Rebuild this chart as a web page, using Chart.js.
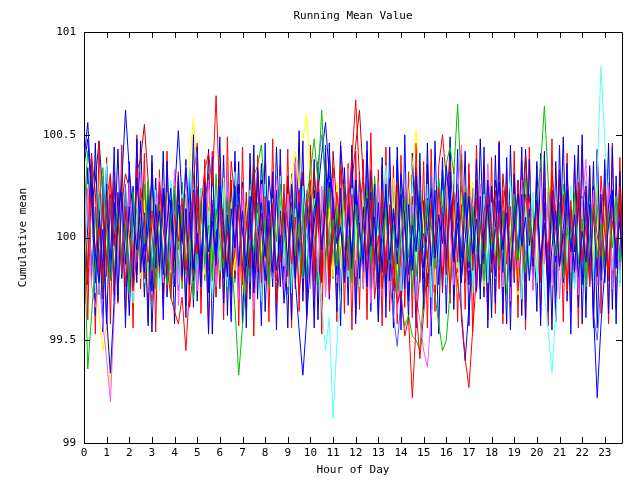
<!DOCTYPE html>
<html>
<head>
<meta charset="utf-8">
<script src="https://cdn.jsdelivr.net/npm/chart.js@4/dist/chart.umd.min.js"></script>
<style>
  html, body { margin: 0; padding: 0; background: #fff; }
  #wrap { width: 640px; height: 480px; }
</style>
</head>
<body>
<div id="wrap"><canvas id="meanChart" width="640" height="480"></canvas></div>
<script>
// hour ticks shown on the x axis
const hourTicks = [0, 1, 2, 3, 4, 5, 6, 7, 8, 9, 10, 11, 12, 13, 14, 15, 16, 17, 18, 19, 20, 21, 22, 23];
const meanTicks = [99, 99.5, 100, 100.5, 101];
const samplesPerHour = 6;

// one array per run, a sample every 10 minutes
const blueA = [
    100.38, 100.56, 100.21, 99.92, 99.78, 100.04, 99.61, 99.34, 99.7, 100.09,
    100.27, 100.62, 100.33, 100.11, 99.94, 100.18, 99.87, 100.05, 100.29, 99.96,
    100.13, 99.82, 100.07, 100.24, 99.9, 100.16, 99.98, 100.34, 100.1, 99.85,
    100.02, 99.76, 100.19, 99.93, 100.08, 99.88, 100.25, 100.06, 99.81, 100.14,
    99.95, 100.21, 100.03, 99.86, 100.12, 99.73, 99.97, 100.17, 99.91, 100.3,
    100.09, 99.84, 100.01, 99.68, 99.9, 100.11, 99.79, 99.55, 99.33, 99.6,
    99.88, 100.07, 100.22, 99.94, 100.15, 100.39, 100.18, 99.97, 100.05, 99.83,
    100.12, 99.92, 100.28, 100.04, 99.87, 100.19, 99.96, 100.1, 99.78, 100.02,
    100.23, 99.89, 100.13, 99.95, 100.31, 100.08, 99.82, 100.06, 99.93, 100.17,
    99.85, 100.03, 100.24, 99.9, 100.11, 99.97, 100.35, 100.14, 99.88, 100.07,
    99.8, 99.99, 100.2, 99.92, 100.09, 99.75, 100.01, 100.16, 99.87, 100.05,
    100.27, 99.94, 100.12, 99.83, 100.06, 100.21, 99.96, 100.1, 99.79, 100.02,
    100.18, 99.9, 100.07, 99.72, 99.95, 100.13, 99.86, 100.04, 100.25, 99.93,
    100.11, 99.81, 100.03, 99.88, 100.16, 99.64, 99.22, 99.58, 99.84, 100.06,
    100.2, 99.91, 100.08, 99.79, 100.01
];
const blueB = [
    100.35, 100.48, 100.2, 99.78, 100.13, 99.85, 100.26, 99.8, 100.17, 99.72,
    100.22, 99.87, 100.15, 99.76, 100.29, 100.02, 99.83, 100.21, 99.74, 100.16,
    99.86, 100.24, 99.79, 100.18, 99.89, 100.3, 99.81, 100.14, 99.77, 100.23,
    100.01, 99.84, 100.27, 99.75, 100.16, 99.87, 100.22, 99.8, 100.19, 99.73,
    100.25, 99.86, 100.13, 99.78, 100.2, 99.82, 100.34, 100.05, 99.79, 100.18,
    99.83, 100.23, 99.76, 100.12, 99.88, 100.26, 99.8, 100.17, 99.74, 100.21,
    99.87, 100.14, 100.22, 100.41, 100.56, 100.3, 100.18, 99.82, 100.24, 99.78,
    100.15, 99.85, 100.28, 99.8, 100.13, 99.76, 100.22, 99.88, 100.17, 99.83,
    100.26, 99.79, 100.14, 99.87, 100.21, 99.75, 100.16, 99.84, 100.3, 100.01,
    99.8, 100.19, 99.86, 100.23, 99.77, 100.15, 99.82, 100.25, 99.89, 100.17,
    99.78, 100.22, 99.85, 100.13, 99.74, 100.2, 99.87, 100.28, 100.02, 99.81,
    100.18, 99.83, 100.24, 99.76, 100.16, 99.89, 100.21, 99.79, 100.14, 99.86,
    100.27, 99.82, 100.17, 99.75, 100.2, 99.88, 100.13, 99.8, 100.23, 100.05,
    99.84, 100.18, 99.77, 100.25, 99.86, 100.12, 99.81, 100.21, 99.78, 100.16,
    100.23, 99.85, 100.14, 99.8, 100.19
];
const blueC = [
    99.7, 100.05, 100.41, 99.62, 100.19, 99.54, 100.35, 99.88, 100.44, 99.69,
    100.23, 99.56, 100.37, 99.72, 100.48, 99.83, 100.12, 99.57, 100.4, 99.85,
    100.26, 99.6, 100.37, 99.87, 100.21, 100.52, 100.18, 99.61, 100.33, 99.66,
    100.44, 99.84, 100.15, 99.53, 100.39, 99.86, 100.49, 99.68, 100.11, 99.59,
    100.42, 99.75, 100.27, 99.56, 100.41, 99.8, 100.14, 99.57, 100.46, 99.77,
    100.32, 99.55, 100.43, 99.79, 100.18, 99.6, 100.36, 99.88, 100.47, 99.62,
    100.2, 99.56, 100.34, 99.86, 100.45, 99.7, 100.19, 99.64, 100.45, 100.21,
    99.67, 100.43, 99.58, 100.32, 99.83, 100.47, 99.64, 100.26, 99.59, 100.35,
    99.61, 100.44, 99.77, 100.38, 99.55, 100.5, 99.69, 100.14, 99.56, 100.41,
    99.65, 100.36, 99.52, 100.47, 99.88, 100.39, 99.63, 100.32, 99.74, 100.43,
    99.61, 99.4, 99.66, 99.89, 100.38, 99.7, 100.44, 99.56, 100.25, 99.68,
    100.46, 99.63, 100.39, 99.55, 100.31, 99.87, 100.44, 99.6, 100.38, 99.75,
    100.37, 99.57, 100.42, 99.64, 100.23, 99.59, 100.45, 99.78, 100.36, 99.53,
    100.4, 99.66, 100.5, 99.61, 100.35, 99.56, 100.43, 99.79, 100.38, 99.63,
    100.44, 99.58, 100.32, 99.67, 100.41
];
const redA = [
    100.12, 99.85, 100.21, 99.93, 100.05, 99.78, 100.18, 100.31, 99.96, 100.08,
    99.82, 100.15, 100.02, 99.74, 99.91, 100.24, 100.09, 99.88, 100.13, 99.95,
    100.27, 100.04, 99.86, 99.71, 100.11, 99.98, 100.19, 99.84, 100.06, 100.22,
    99.92, 100.14, 100.33, 100.41, 100.25, 100.69, 100.18, 99.89, 100.03, 99.81,
    99.94, 100.16, 99.77, 100.08, 99.99, 100.26, 99.83, 100.12, 99.9, 100.02,
    100.17, 99.79, 99.93, 100.21, 100.05, 99.87, 100.1, 99.72, 99.96, 100.19,
    100.07, 99.85, 100.28, 99.95, 100.13, 99.8, 99.98, 100.22, 100.04, 99.88,
    100.15, 100.38, 100.67, 100.29, 100.06, 99.91, 100.18, 99.84, 100.01, 99.76,
    99.93, 100.11, 99.86, 99.68, 99.74, 99.52, 99.61, 99.22, 99.58, 99.83,
    100.02, 99.89, 100.14, 99.97, 100.24, 100.08, 99.82, 100.16, 99.94, 99.78,
    99.65, 99.41, 99.27, 99.55, 99.81, 100.06, 99.92, 100.19, 100.03, 99.87,
    100.12, 99.96, 100.26, 99.83, 100.09, 99.74, 99.99, 100.21, 100.05, 99.9,
    100.17, 99.8, 100.07, 99.93, 100.3, 100.11, 99.86, 100.02, 99.75, 100.14,
    99.97, 100.23, 99.88, 100.06, 99.79, 100.16, 100.01, 99.91, 100.25, 99.84,
    100.08, 99.95, 100.19, 99.87, 100.04
];
const redB = [
    99.64, 99.85, 100.4, 100.22, 99.78, 100.16, 99.81, 100.31, 99.72, 100.14,
    100.25, 99.76, 100.19, 99.87, 100.34, 100.02, 99.8, 100.27, 99.69, 100.15,
    99.83, 100.23, 99.75, 100.18, 99.88, 100.32, 99.79, 100.14, 99.66, 99.85,
    100.21, 99.77, 100.29, 99.84, 100.16, 99.71, 100.24, 100.0, 99.82, 100.37,
    100.18, 99.8, 100.25, 99.74, 100.13, 99.86, 100.3, 99.78, 100.2, 99.83,
    100.15, 99.68, 99.88, 100.26, 99.81, 100.17, 99.75, 100.22, 99.85, 100.13,
    100.28, 99.79, 100.16, 99.83, 100.24, 99.72, 100.11, 99.87, 100.35, 100.19,
    99.84, 100.21, 99.76, 100.14, 100.3, 99.8, 100.17, 99.7, 99.89, 100.23,
    99.82, 100.16, 99.74, 100.27, 99.86, 100.13, 99.78, 100.2, 99.66, 99.41,
    99.63, 99.87, 100.18, 99.85, 100.25, 99.81, 100.14, 99.73, 100.22, 99.88,
    100.16, 99.79, 100.31, 99.84, 100.19, 99.76, 100.12, 100.26, 99.83, 100.17,
    99.75, 100.23, 99.87, 100.15, 99.8, 100.28, 100.01, 99.77, 100.2, 99.85,
    100.24, 99.78, 100.16, 99.82, 100.33, 100.03, 99.86, 100.21, 99.74, 100.18,
    99.83, 100.27, 99.89, 100.15, 99.76, 100.22, 99.84, 100.3, 100.02, 99.79,
    100.19, 99.87, 100.25, 99.72, 100.14
];
const redC = [
    100.43, 99.6, 100.36, 99.53, 100.47, 99.76, 100.39, 99.58, 100.32, 99.68,
    100.45, 99.62, 100.34, 99.56, 100.5, 99.75, 100.41, 99.59, 100.37, 99.54,
    100.33, 99.67, 100.42, 99.71, 99.64, 99.58, 99.71, 99.45, 99.77, 100.29,
    100.46, 99.63, 100.38, 99.55, 100.42, 99.78, 100.35, 99.6, 100.49, 99.64,
    100.37, 99.57, 100.44, 99.66, 100.33, 99.52, 100.4, 99.75, 100.36, 99.59,
    100.48, 99.62, 100.35, 99.77, 100.43, 99.56, 100.39, 99.64, 100.32, 99.6,
    100.45, 99.66, 100.37, 99.53, 100.41, 99.78, 100.34, 99.59, 100.47, 99.63,
    100.36, 99.55, 100.42, 99.65, 100.38, 99.6, 100.51, 99.77, 100.33, 99.57,
    100.44, 99.64, 100.35, 99.58, 100.4, 99.66, 100.32, 99.61, 100.46, 99.79,
    100.37, 99.56, 100.43, 99.64, 100.35, 100.5, 100.28, 99.68, 100.34, 99.59,
    100.41, 99.65, 100.36, 99.54, 100.45, 99.77, 100.33, 99.6, 100.39, 99.63,
    100.47, 99.58, 100.34, 99.66, 100.42, 99.61, 100.37, 99.55, 100.44, 99.78,
    100.35, 99.62, 100.4, 99.57, 100.48, 99.65, 100.33, 99.59, 100.41, 99.64,
    100.38, 99.56, 100.45, 99.77, 100.34, 99.6, 100.42, 99.63, 100.36, 99.58,
    100.46, 99.65, 100.39, 99.61, 100.33
];
const greenA = [
    100.05, 99.36, 99.62, 99.88, 100.19, 100.34, 100.02, 99.79, 99.95, 100.13,
    99.86, 100.07, 99.73, 100.22, 99.91, 100.1, 99.97, 100.28, 99.84, 100.01,
    100.16, 99.9, 99.77, 100.09, 100.25, 99.94, 100.12, 99.82, 100.03, 99.7,
    99.96, 100.18, 99.87, 100.06, 99.79, 100.14, 99.99, 99.85, 100.2, 99.92,
    99.66, 99.33, 99.57, 99.81, 100.04, 99.93, 100.17, 99.88, 100.08, 99.76,
    100.11, 99.98, 100.26, 100.03, 99.84, 100.15, 99.91, 100.07, 99.8, 100.19,
    100.32, 100.48, 100.27, 100.62, 100.21, 99.96, 100.09, 99.86, 100.13, 99.94,
    100.01, 99.78, 100.16, 99.89, 100.05, 100.23, 99.92, 100.1, 99.83, 99.97,
    100.14, 99.87, 100.06, 99.74, 99.99, 100.2, 99.9, 100.11, 99.81, 100.03,
    99.95, 100.18, 100.07, 99.85, 100.29, 100.12, 100.36, 100.44, 100.31, 100.65,
    100.24, 100.02, 99.88, 100.15, 99.93, 100.08, 99.79, 100.17, 99.96, 100.04,
    99.86, 100.13, 99.72, 99.98, 100.21, 99.89, 100.06, 99.83, 100.1, 99.94,
    100.19, 100.35, 100.64, 100.28, 100.03, 99.91, 100.14, 99.8, 100.05, 99.97,
    100.22, 99.87, 100.09, 99.76, 100.01, 100.16, 99.9, 100.07, 99.84, 100.12,
    99.95, 100.2, 99.88, 100.03, 99.92
];
const greenB = [
    100.12, 100.42, 100.28, 99.8, 100.17, 99.76, 100.23, 99.87, 100.15, 99.73,
    100.21, 99.84, 100.3, 99.78, 100.14, 99.89, 100.26, 99.81, 100.18, 99.75,
    100.13, 99.86, 100.22, 99.7, 100.19, 99.83, 100.27, 100.01, 99.77, 100.16,
    99.85, 100.24, 99.79, 100.15, 99.88, 100.31, 99.82, 100.2, 99.74, 100.12,
    100.23, 99.8, 100.17, 99.86, 100.28, 99.76, 100.14, 99.83, 100.21, 99.89,
    100.16, 99.72, 100.25, 99.87, 100.13, 99.78, 100.22, 99.84, 100.18, 99.81,
    100.29, 100.02, 99.77, 100.2, 99.85, 100.24, 99.8, 100.15, 99.88, 100.26,
    99.79, 100.17, 99.83, 100.22, 99.75, 100.13, 99.87, 100.3, 100.06, 99.82,
    100.2, 99.77, 100.14, 99.86, 100.25, 99.8, 100.18, 99.73, 100.11, 100.23,
    99.84, 100.16, 99.78, 99.72, 99.58, 99.45, 99.5, 99.74, 99.97, 100.19,
    99.81, 100.24, 100.0, 99.76, 100.17, 99.85, 100.27, 99.79, 100.14, 99.88,
    100.22, 99.8, 100.16, 99.74, 100.2, 99.86, 100.13, 100.29, 99.82, 100.18,
    99.77, 100.15, 99.87, 100.23, 99.8, 100.12, 99.84, 100.26, 100.07, 99.75,
    100.2, 99.83, 100.14, 99.78, 100.24, 99.88, 100.16, 99.81, 100.22, 99.85,
    100.13, 99.79, 100.27, 99.84, 100.16
];
const greenC = [
    99.78, 100.2, 99.85, 100.14, 99.72, 100.25, 99.87, 100.18, 99.8, 100.13,
    99.84, 100.23, 99.76, 100.16, 99.88, 100.29, 99.81, 100.12, 99.77, 100.22,
    99.86, 100.17, 99.79, 100.26, 99.83, 100.14, 99.75, 100.21, 99.88, 100.15,
    99.8, 100.24, 99.85, 100.13, 99.73, 100.19, 99.87, 100.28, 99.82, 100.16,
    99.78, 100.22, 99.86, 100.17, 99.81, 100.3, 100.35, 100.45, 100.2, 99.84,
    100.15, 99.77, 100.23, 99.88, 100.13, 99.8, 100.26, 99.85, 100.18, 99.74,
    100.21, 99.83, 100.16, 99.79, 100.27, 99.86, 100.12, 99.76, 100.24, 99.88,
    100.17, 99.81, 100.22, 99.84, 100.14, 99.78, 100.29, 99.87, 100.19, 99.75,
    100.13, 99.85, 100.25, 99.8, 99.68, 99.57, 99.62, 99.52, 99.5, 99.45,
    99.72, 99.86, 100.18, 99.79, 100.23, 99.84, 100.15, 99.77, 100.26, 99.88,
    100.14, 99.81, 100.2, 99.85, 100.28, 99.76, 100.17, 99.83, 100.22, 99.87,
    100.13, 99.79, 100.25, 99.82, 100.16, 99.88, 100.21, 99.74, 100.19, 99.85,
    100.27, 99.8, 100.14, 99.86, 100.23, 99.78, 100.17, 99.83, 100.3, 99.87,
    100.12, 99.75, 100.2, 99.84, 100.16, 99.8, 100.24, 99.87, 100.13, 99.79,
    100.21, 99.86, 100.15, 99.77, 100.25
];
const magentaA = [
    99.98, 100.24, 99.77, 99.66, 99.79, 99.58, 99.41, 99.2, 99.63, 99.9,
    100.18, 99.83, 100.27, 99.75, 100.04, 100.32, 99.86, 100.21, 99.72, 100.11,
    100.29, 99.78, 100.16, 99.84, 100.33, 99.67, 99.99, 100.35, 99.81, 100.17,
    99.74, 100.2, 99.85, 100.28, 100.03, 99.76, 100.19, 99.87, 100.33, 99.79,
    100.15, 99.7, 100.24, 99.82, 100.12, 99.65, 99.98, 100.26, 99.77, 100.18,
    99.84, 100.3, 100.04, 99.73, 100.21, 99.86, 100.37, 100.06, 99.8, 100.23,
    99.75, 100.13, 99.83, 100.25, 99.71, 100.0, 100.29, 99.78, 100.2, 99.87,
    100.34, 100.07, 99.81, 100.22, 99.76, 100.15, 99.68, 99.99, 100.27, 99.82,
    100.18, 99.74, 100.12, 99.63, 99.85, 100.24, 99.79, 100.16, 99.72, 99.6,
    99.45, 99.37, 99.62, 99.88, 100.19, 99.86, 100.31, 100.04, 99.77, 100.22,
    100.45, 100.1, 99.84, 100.17, 99.73, 100.26, 99.88, 100.36, 100.02, 99.8,
    100.24, 99.76, 100.15, 99.69, 100.21, 99.85, 100.28, 99.81, 100.17, 99.74,
    100.13, 100.32, 99.87, 100.22, 99.78, 100.16, 99.7, 100.0, 100.25, 99.83,
    100.19, 99.72, 100.14, 100.38, 99.86, 100.23, 99.77, 100.12, 99.81, 100.27,
    99.75, 100.16, 99.84, 100.21, 99.79
];
const cyanA = [
    100.31, 99.85, 100.18, 99.73, 100.22, 99.87, 100.36, 99.8, 100.14, 99.76,
    100.25, 99.83, 100.19, 99.68, 100.12, 100.29, 99.78, 100.17, 99.86, 100.23,
    99.74, 100.15, 99.82, 100.28, 100.01, 99.77, 100.21, 99.85, 100.34, 100.06,
    99.79, 100.24, 99.88, 100.13, 99.7, 100.2, 99.84, 100.27, 99.76, 100.15,
    100.32, 99.81, 100.18, 99.75, 100.23, 99.87, 100.12, 99.69, 100.26, 99.83,
    100.17, 99.78, 100.3, 99.86, 100.21, 99.73, 100.14, 99.82, 100.25, 100.01,
    99.77, 100.19, 99.85, 99.68, 99.45, 99.61, 99.12, 99.48, 99.77, 100.13,
    99.81, 100.24, 100.0, 99.76, 100.28, 99.84, 100.16, 99.72, 100.2, 99.87,
    100.35, 100.04, 99.8, 100.22, 99.74, 100.17, 99.86, 100.29, 99.79, 100.13,
    99.83, 100.26, 99.71, 100.18, 99.88, 100.23, 99.77, 100.12, 100.31, 99.85,
    100.16, 99.8, 100.27, 99.73, 100.14, 99.87, 100.21, 99.78, 100.17, 99.84,
    100.24, 99.76, 100.11, 100.3, 99.82, 100.19, 99.7, 100.15, 99.85, 100.22,
    99.78, 100.13, 99.72, 99.55, 99.34, 99.62, 99.9, 100.18, 99.86, 100.25,
    99.75, 100.16, 99.83, 100.28, 100.02, 99.79, 100.33, 100.83, 100.47, 100.12,
    99.84, 100.2, 99.76, 100.14, 99.87
];
const yellowA = [
    99.81, 100.26, 100.03, 99.8, 99.62, 99.45, 99.58, 99.27, 99.66, 99.94,
    100.2, 99.77, 100.15, 99.86, 100.3, 99.8, 100.18, 99.73, 100.24, 99.89,
    100.14, 99.78, 100.22, 99.83, 100.27, 100.09, 99.85, 100.18, 100.37, 100.58,
    100.31, 100.06, 99.82, 100.23, 99.75, 100.11, 99.87, 100.29, 99.79, 100.17,
    99.84, 100.21, 99.72, 100.12, 100.26, 99.8, 100.15, 99.88, 100.32, 99.77,
    100.19, 99.83, 100.24, 100.0, 99.76, 100.28, 100.42, 100.24, 100.48, 100.6,
    100.3, 100.07, 99.86, 100.22, 99.74, 100.14, 99.81, 100.27, 99.85, 100.18,
    99.78, 100.23, 99.89, 100.31, 99.82, 100.16, 99.71, 100.2, 99.87, 100.25,
    100.02, 99.79, 100.29, 99.84, 100.17, 99.75, 100.21, 100.35, 100.52, 100.26,
    100.04, 99.83, 100.24, 99.77, 100.19, 99.88, 100.3, 99.8, 100.16, 99.73,
    100.22, 99.86, 100.13, 100.27, 99.81, 100.18, 99.76, 100.35, 100.01, 99.84,
    100.2, 99.78, 100.25, 99.87, 100.15, 99.72, 100.23, 99.82, 100.31, 100.04,
    99.8, 100.17, 99.85, 100.28, 99.77, 100.12, 99.89, 100.21, 99.74, 100.16,
    100.26, 99.83, 100.19, 99.76, 100.13, 99.87, 100.3, 99.79, 100.15, 99.84,
    100.22, 99.81, 100.17, 99.88, 100.24
];
const darkRedA = [
    100.19, 99.77, 100.34, 99.85, 100.21, 99.7, 100.13, 99.82, 100.27, 99.88,
    100.16, 100.31, 100.24, 99.79, 100.32, 100.38, 100.55, 100.28, 100.01, 99.8,
    100.23, 99.74, 100.15, 99.86, 100.29, 99.81, 100.18, 99.67, 100.12, 99.84,
    100.25, 99.78, 100.17, 100.31, 99.83, 100.2, 99.75, 100.14, 99.87, 100.28,
    99.8, 100.16, 99.72, 100.22, 99.85, 100.35, 100.03, 99.79, 100.19, 99.86,
    100.26, 99.76, 100.12, 99.83, 100.3, 100.07, 99.81, 100.23, 99.74, 100.15,
    99.87, 100.33, 100.08, 99.78, 100.21, 99.84, 100.42, 100.14, 99.89, 100.16,
    99.8, 100.27, 100.45, 100.62, 100.29, 100.04, 99.82, 100.2, 99.75, 100.13,
    99.86, 100.29, 99.79, 100.17, 99.71, 100.22, 99.85, 100.12, 100.34, 99.81,
    100.18, 99.76, 100.24, 99.88, 100.15, 99.73, 100.21, 100.37, 100.06, 99.83,
    100.25, 99.78, 100.14, 99.85, 100.28, 99.8, 100.17, 99.69, 100.11, 100.23,
    99.84, 100.31, 100.09, 99.77, 100.26, 99.87, 100.13, 100.4, 100.11, 99.79,
    100.16, 99.82, 100.24, 99.74, 100.18, 99.89, 100.3, 99.8, 100.15, 99.86,
    100.22, 99.75, 100.12, 100.27, 99.83, 100.2, 99.77, 100.16, 99.88, 100.25,
    99.81, 100.18, 99.86, 100.29, 99.78
];
const slateBlueA = [
    99.75, 100.22, 99.86, 100.15, 99.78, 100.3, 99.83, 100.19, 99.69, 100.12,
    99.84, 100.26, 99.77, 100.17, 99.88, 100.23, 99.8, 100.14, 99.73, 100.21,
    100.0, 99.79, 100.28, 99.85, 100.16, 99.74, 100.2, 99.87, 100.24, 99.81,
    100.13, 99.76, 100.22, 99.84, 100.18, 99.71, 100.15, 99.89, 100.27, 99.82,
    100.16, 99.78, 100.24, 99.86, 100.11, 99.75, 100.31, 99.83, 100.19, 99.87,
    99.8, 100.23, 99.88, 100.17, 99.72, 100.14, 99.84, 100.29, 100.02, 99.77,
    100.21, 99.85, 100.36, 100.5, 100.29, 100.08, 99.81, 100.25, 99.76, 100.13,
    99.87, 100.22, 99.79, 100.16, 99.83, 100.28, 99.74, 100.11, 100.2, 99.85,
    100.14, 99.8, 99.62, 99.47, 99.7, 99.92, 100.19, 99.86, 100.24, 99.78,
    100.15, 99.84, 100.3, 99.89, 100.17, 99.75, 100.22, 99.82, 100.13, 100.26,
    99.8, 100.18, 99.87, 100.23, 99.73, 100.12, 99.85, 100.29, 100.06, 99.79,
    100.2, 99.83, 100.14, 99.76, 100.25, 99.88, 100.17, 99.71, 100.21, 99.86,
    100.12, 99.78, 100.27, 99.84, 100.19, 99.77, 100.15, 99.89, 100.23, 99.81,
    100.16, 99.74, 100.2, 99.87, 100.13, 99.62, 99.5, 99.78, 100.11, 100.24,
    99.82, 100.17, 99.79, 100.21, 99.88
];
const navyA = [
    100.27, 99.83, 100.15, 100.28, 100.47, 100.2, 99.86, 100.18, 99.74, 100.22,
    99.87, 100.13, 99.78, 100.25, 99.82, 100.19, 99.71, 100.16, 99.85, 100.29,
    99.8, 100.21, 99.88, 100.17, 99.76, 100.23, 100.02, 99.84, 100.32, 99.79,
    100.15, 99.86, 100.24, 99.73, 100.18, 99.82, 100.28, 100.01, 99.77, 100.2,
    99.85, 100.26, 99.8, 100.14, 99.7, 100.22, 99.87, 100.36, 100.07, 99.83,
    100.21, 99.78, 100.13, 99.86, 100.25, 99.75, 100.19, 99.89, 100.31, 100.04,
    99.81, 100.23, 99.77, 100.16, 99.88, 100.27, 99.82, 100.18, 99.74, 100.12,
    100.24, 99.85, 100.2, 99.79, 100.15, 99.87, 100.33, 100.06, 99.8, 100.22,
    99.76, 100.13, 99.84, 100.26, 99.81, 100.18, 99.72, 100.1, 100.23, 99.86,
    100.17, 99.78, 100.29, 99.83, 100.14, 99.88, 100.21, 99.75, 100.12, 100.25,
    99.82, 100.19, 99.77, 100.24, 99.86, 100.15, 99.71, 100.2, 99.89, 100.28,
    100.13, 99.8, 100.22, 99.85, 100.17, 99.76, 100.26, 99.87, 100.14, 99.79,
    100.21, 99.84, 100.16, 99.73, 100.23, 99.88, 100.12, 99.81, 100.3, 100.05,
    99.77, 100.2, 99.86, 100.18, 99.83, 100.25, 99.78, 100.14, 99.87, 100.22,
    99.8, 100.16, 99.85, 100.23, 99.76
];
const navyB = [
    99.88, 100.34, 99.79, 100.46, 99.84, 100.18, 99.55, 100.21, 99.96, 100.43,
    99.8, 100.04, 99.62, 100.15, 99.78, 100.47, 99.93, 100.19, 99.54, 100.06,
    99.85, 100.42, 99.71, 100.13, 99.58, 100.25, 99.97, 100.38, 99.84, 100.5,
    99.69, 100.16, 99.86, 100.43, 99.53, 100.04, 99.87, 100.4, 99.62, 100.26,
    99.95, 100.37, 99.58, 100.12, 99.88, 100.45, 99.7, 100.28, 99.64, 100.09,
    99.76, 100.44, 99.97, 100.15, 99.56, 100.31, 99.85, 100.52, 99.69, 100.17,
    99.93, 100.38, 99.6, 100.23, 99.75, 100.46, 99.86, 100.1, 99.57, 100.34,
    99.87, 100.45, 99.62, 100.07, 99.78, 100.42, 99.95, 100.23, 99.59, 100.39,
    99.71, 100.15, 99.56, 100.44, 99.86, 100.08, 99.6, 100.41, 99.94, 100.22,
    99.68, 100.46, 99.79, 100.16, 99.53, 100.33, 99.87, 100.49, 99.65, 100.14,
    99.9, 100.42, 99.57, 100.17, 99.74, 100.48, 99.94, 100.25, 99.61, 100.4,
    99.86, 100.13, 99.58, 100.45, 99.78, 100.28, 99.62, 100.43, 99.96, 100.16,
    99.64, 100.41, 99.87, 100.24, 99.55, 100.37, 99.85, 100.49, 99.69, 100.14,
    99.93, 100.45, 99.58, 100.22, 99.77, 100.37, 99.56, 100.13, 99.81, 100.46,
    99.65, 100.3, 99.78, 100.46, 99.84
];

// first entry is drawn on top
const runs = [
    { data: blueA, color: '#0000ff' },
    { data: redA, color: '#ff0000' },
    { data: greenA, color: '#00c000' },
    { data: blueB, color: '#0000ff' },
    { data: magentaA, color: '#ff55ff' },
    { data: redB, color: '#ff0000' },
    { data: cyanA, color: '#55ffff' },
    { data: blueC, color: '#0000ff' },
    { data: yellowA, color: '#ffff00' },
    { data: greenB, color: '#00c000' },
    { data: darkRedA, color: '#c00000' },
    { data: slateBlueA, color: '#5555ff' },
    { data: redC, color: '#ff0000' },
    { data: navyA, color: '#0000c0' },
    { data: greenC, color: '#00c000' },
    { data: navyB, color: '#0000c0' }
];

const FONT = '"DejaVu Sans Mono", "Liberation Mono", monospace';

const gnuplotFrame = {
    id: 'gnuplotFrame',
    afterDraw(chart) {
        const { ctx, chartArea: a, scales: { x, y } } = chart;
        const px = v => Math.round(v) + 0.5;
        ctx.save();
        ctx.strokeStyle = '#000';
        ctx.lineWidth = 1;
        ctx.beginPath();
        ctx.rect(px(a.left), px(a.top), Math.round(a.right) - Math.round(a.left), Math.round(a.bottom) - Math.round(a.top));
        hourTicks.forEach(h => {
            const xp = px(x.getPixelForValue(h));
            ctx.moveTo(xp, a.bottom);
            ctx.lineTo(xp, a.bottom - 6);
            ctx.moveTo(xp, a.top);
            ctx.lineTo(xp, a.top + 6);
        });
        meanTicks.forEach(m => {
            const yp = px(y.getPixelForValue(m));
            ctx.moveTo(a.left, yp);
            ctx.lineTo(a.left + 6, yp);
            ctx.moveTo(a.right, yp);
            ctx.lineTo(a.right - 6, yp);
        });
        ctx.stroke();

        ctx.fillStyle = '#000';
        ctx.font = '11px ' + FONT;
        ctx.textAlign = 'center';
        ctx.textBaseline = 'middle';
        const cx = (a.left + a.right) / 2;
        ctx.fillText('Running Mean Value', cx, 16);
        ctx.fillText('Hour of Day', cx, 470);
        ctx.translate(23, (a.top + a.bottom) / 2);
        ctx.rotate(-Math.PI / 2);
        ctx.fillText('Cumulative mean', 0, 0);
        ctx.restore();
    }
};

function initMeanChart() {
    const ctx = document.getElementById('meanChart').getContext('2d');

    new Chart(ctx, {
        type: 'line',
        data: {
            datasets: runs.map(r => ({
                data: r.data.map((v, i) => ({ x: i / samplesPerHour, y: v })),
                borderColor: r.color,
                borderWidth: 1,
                pointRadius: 0,
                tension: 0,
                fill: false
            }))
        },
        options: {
            responsive: false,
            animation: false,
            events: [],
            layout: { padding: { top: 32, right: 18, bottom: 0, left: 0 } },
            plugins: {
                legend: { display: false },
                title: { display: false },
                tooltip: { enabled: false }
            },
            scales: {
                x: {
                    type: 'linear',
                    min: 0,
                    max: 23.76,
                    grid: { display: false, drawTicks: false },
                    border: { display: false },
                    afterFit: s => { s.height = 37; },
                    afterBuildTicks: s => { s.ticks = hourTicks.map(h => ({ value: h })); },
                    ticks: {
                        color: '#000',
                        padding: 4,
                        maxRotation: 0,
                        autoSkip: false,
                        font: { family: FONT, size: 11 },
                        callback: v => String(v)
                    }
                },
                y: {
                    min: 99,
                    max: 101,
                    grid: { display: false, drawTicks: false },
                    border: { display: false },
                    afterFit: s => { s.width = 84; },
                    afterBuildTicks: s => { s.ticks = meanTicks.map(m => ({ value: m })); },
                    ticks: {
                        color: '#000',
                        padding: 8,
                        font: { family: FONT, size: 11 },
                        callback: v => String(v)
                    }
                }
            }
        },
        plugins: [gnuplotFrame]
    });
}

window.addEventListener('load', initMeanChart);
</script>
</body>
</html>
